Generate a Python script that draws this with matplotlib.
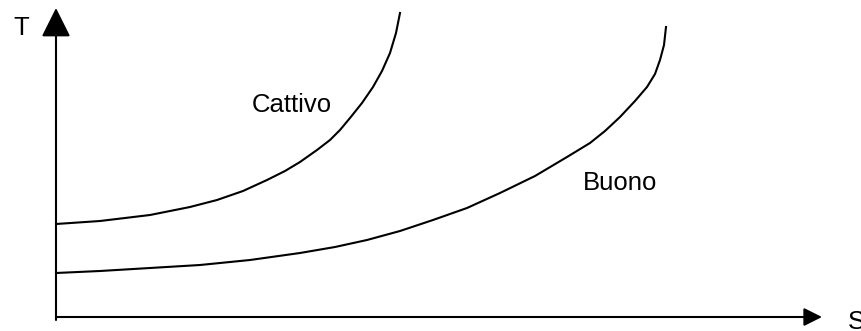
import matplotlib
matplotlib.use("Agg")
import matplotlib.pyplot as plt

plt.rcParams["font.family"] = ["Liberation Sans", "DejaVu Sans"]

# curve points (S, T), origin at the axes corner
cattivo_s = [0, 44, 94, 134, 161, 187, 211, 229, 244, 261, 274, 284, 294,
             306, 317, 326, 334, 340, 344]
cattivo_t = [93, 96, 102, 110, 117, 126, 137, 146, 155, 167, 177, 187, 199,
             214, 230, 246, 264, 284, 304]

buono_s = [0, 44, 94, 144, 194, 244, 279, 311, 344, 377, 411, 444, 479, 511,
           534, 549, 564, 579, 591, 599, 604, 608, 610]
buono_t = [44, 46, 49, 52, 57, 64, 70, 77, 86, 97, 109, 124, 141, 160,
           174, 186, 200, 216, 230, 243, 257, 272, 290]

labels = ["Cattivo", "Buono"]
axis_names = ["S", "T"]

fig = plt.figure(figsize=(8.62, 3.31), dpi=100)
ax = fig.add_axes([0, 0, 1, 1])
ax.set_xlim(-56, 806)
ax.set_ylim(-14, 317)
ax.axis("off")

# axes with arrows
ax.annotate("", xy=(766, 0), xytext=(0, 0),
            arrowprops=dict(arrowstyle="-|>,head_length=1.1,head_width=0.55",
                            lw=1.5, color="black", shrinkA=0, shrinkB=0))
ax.annotate("", xy=(0, 309), xytext=(0, -3),
            arrowprops=dict(arrowstyle="-|>,head_length=1.8,head_width=0.9",
                            lw=1.5, color="black", shrinkA=0, shrinkB=0))

ax.plot(cattivo_s, cattivo_t, color="black", lw=1.5, solid_joinstyle="round")
ax.plot(buono_s, buono_t, color="black", lw=1.5, solid_joinstyle="round")

fs = 18.5
ax.text(196, 212, labels[0], fontsize=fs, va="center", ha="left")
ax.text(527, 134, labels[1], fontsize=fs, va="center", ha="left")
ax.text(792, -5, axis_names[0], fontsize=fs, va="center", ha="left")
ax.text(-43, 289, axis_names[1], fontsize=fs, va="center", ha="left")

fig.savefig("out.png", dpi=100)
